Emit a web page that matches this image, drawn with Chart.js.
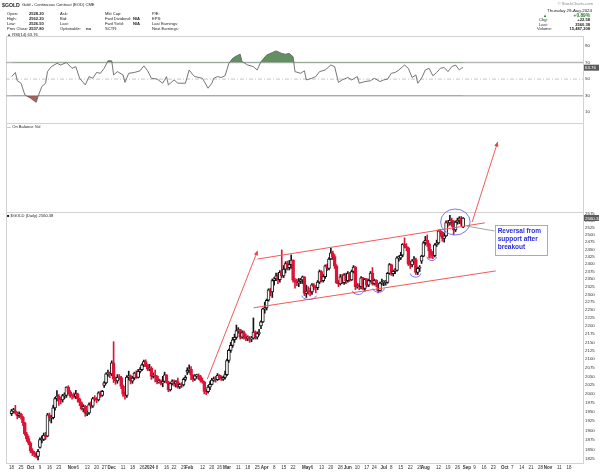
<!DOCTYPE html>
<html>
<head>
<meta charset="utf-8">
<script src="https://cdn.jsdelivr.net/npm/chart.js@4.4.1/dist/chart.umd.min.js"></script>
<style>
  body { margin: 0; background: #fff; }
  #wrap { position: relative; width: 600px; height: 472px; overflow: hidden; }
  #c { position: absolute; left: 0; top: 0; }
  .t { position: absolute; font: 4.1px "Liberation Sans", Arial, sans-serif; color: #222; white-space: nowrap; line-height: 1; }
  .b { font-weight: bold; }
  .r { text-align: right; }
</style>
</head>
<body>
<div id="wrap">
  <canvas id="c" width="600" height="472"></canvas>

  <!-- header -->
  <div class="t b" style="left:2px;top:2.5px;font-size:5.2px">$GOLD</div>
  <div class="t" style="left:22px;top:3px">Gold - Continuous Contract (EOD) CME</div>

  <div class="t" style="left:7px;top:12px">Open:</div><div class="t b" style="left:29px;top:12px">2528.20</div>
  <div class="t" style="left:7px;top:17px">High:</div><div class="t b" style="left:29px;top:17px">2562.20</div>
  <div class="t" style="left:7px;top:22px">Low:</div><div class="t b" style="left:29px;top:22px">2526.50</div>
  <div class="t" style="left:7px;top:27px">Prev Close:</div><div class="t b" style="left:29px;top:27px">2537.80</div>

  <div class="t" style="left:60px;top:12px">Ask:</div>
  <div class="t" style="left:60px;top:17px">Bid:</div>
  <div class="t" style="left:60px;top:22px">Last:</div>
  <div class="t" style="left:60px;top:27px">Optionable:</div><div class="t b" style="left:86px;top:27px">no</div>

  <div class="t" style="left:105px;top:12px">Mkt Cap:</div>
  <div class="t" style="left:105px;top:17px">Fwd Dividend:</div><div class="t b" style="left:133px;top:17px">N/A</div>
  <div class="t" style="left:105px;top:22px">Fwd Yield:</div><div class="t b" style="left:133px;top:22px">N/A</div>
  <div class="t" style="left:105px;top:27px">SCTR:</div>

  <div class="t" style="left:152px;top:12px">P/E:</div>
  <div class="t" style="left:152px;top:17px">EPS:</div>
  <div class="t" style="left:152px;top:22px">Last Earnings:</div>
  <div class="t" style="left:152px;top:27px">Next Earnings:</div>

  <div class="t r" style="right:7px;top:1.5px;color:#888">© StockCharts.com</div>
  <div class="t r" style="right:8px;top:9px;font-size:4.4px">Thursday 29-Aug-2024</div>
  <div class="t" style="left:543px;top:13.5px;color:#2a7a2a">▲</div>
  <div class="t b r" style="right:10px;top:13.5px;color:#2a7a2a;font-size:4.8px">+0.89%</div>
  <div class="t" style="left:539px;top:18px">Chg:</div><div class="t b r" style="right:10px;top:18px">+22.58</div>
  <div class="t" style="left:539px;top:22.5px">Last:</div><div class="t b r" style="right:10px;top:22.5px">2560.38</div>
  <div class="t" style="left:537px;top:27px">Volume:</div><div class="t b r" style="right:10px;top:27px">15,487,208</div>

  <!-- panel labels -->
  <div class="t" style="left:7px;top:32.5px"><span style="color:#3a7a3a">▲</span> RSI(14) 63.76</div>
  <div class="t" style="left:7px;top:125px"><span style="color:#333">—</span> On Balance Vol</div>
  <div class="t" style="left:7px;top:214px"><span style="color:#111">■</span> $GOLD (Daily) 2560.38</div>
</div>

<script>
// trading days from 18 Sep 2023 (index 0) to 29 Aug 2024 (index 239)
const opens = [
  1945,1953,1953,1945,1940,1944,1936,1920,1891,1878,
  1866,1847,1841,1837,1832,1855,1876,1876,1887,1885,
  1942,1934,1934,1961,1987,1994,1985,1983,1995,1996,
  2019,2006,1995,1994,1993,2000,1986,1976,1958,1965,
  1946,1947,1970,1966,1987,1985,1983,2003,1996,2024,
  2031,2057,2061,2057,2089,2042,2037,2047,2046,2021,
  1999,1996,2048,2051,2036,2045,2059,2047,2064,2069,
  2083,2093,2083,2071,2073,2050,2053,2050,2034,2036,
  2030,2035,2054,2034,2011,2029,2036,2028,2035,2020,
  2027,2025,2041,2062,2067,2071,2053,2042,2051,2051,
  2049,2038,2034,2007,2006,2019,2027,2039,2042,2040,
  2053,2045,2042,2047,2055,2096,2126,2141,2158,2165,
  2186,2189,2166,2180,2168,2162,2164,2160,2163,2181,
  2166,2177,2200,2213,2254,2257,2281,2315,2308,2345,
  2351,2361,2348,2372,2360,2383,2402,2388,2398,2413,
  2346,2342,2338,2342,2347,2357,2303,2311,2309,2308,
  2331,2324,2322,2340,2375,2345,2358,2394,2385,2417,
  2438,2425,2393,2337,2334,2357,2338,2364,2345,2369,
  2347,2375,2390,2325,2327,2325,2354,2319,2349,2330,
  2345,2370,2335,2346,2331,2312,2337,2339,2339,2339,
  2369,2398,2368,2376,2379,2421,2421,2430,2467,2460,
  2455,2400,2397,2411,2415,2372,2386,2410,2427,2473,
  2481,2469,2444,2432,2428,2466,2472,2515,2509,2488,
  2497,2544,2543,2552,2548,2518,2546,2552,2560,2528
];
const highs = [
  1957,1960,1968,1950,1950,1947,1938,1922,1895,1885,
  1870,1852,1845,1842,1850,1880,1885,1893,1895,1946,
  1947,1940,1968,1990,2009,1998,1990,1999,2003,2020,
  2023,2009,2000,2003,2010,2002,1988,1978,1970,1968,
  1952,1975,1978,1990,1995,1990,2006,2008,2010,2035,
  2060,2068,2062,2095,2152,2048,2055,2055,2050,2025,
  2005,2052,2065,2054,2050,2062,2066,2070,2075,2086,
  2097,2098,2085,2085,2078,2060,2068,2052,2042,2040,
  2050,2062,2055,2036,2032,2040,2040,2038,2045,2030,
  2032,2045,2052,2075,2083,2078,2055,2055,2056,2057,
  2053,2045,2036,2012,2024,2035,2044,2048,2050,2058,
  2055,2052,2050,2065,2100,2130,2150,2165,2175,2203,
  2195,2190,2185,2185,2175,2170,2168,2168,2225,2185,
  2182,2190,2216,2256,2275,2285,2318,2320,2350,2355,
  2370,2370,2378,2448,2395,2408,2410,2412,2431,2414,
  2352,2350,2352,2352,2360,2358,2330,2325,2320,2335,
  2335,2328,2345,2380,2378,2365,2397,2400,2422,2454,
  2444,2432,2398,2345,2365,2365,2368,2370,2375,2372,
  2380,2395,2392,2335,2335,2358,2356,2352,2352,2350,
  2375,2388,2350,2348,2335,2340,2350,2345,2345,2372,
  2402,2400,2380,2385,2425,2428,2440,2470,2490,2470,
  2458,2410,2415,2425,2420,2390,2395,2430,2477,2495,
  2500,2472,2450,2442,2470,2482,2518,2520,2512,2505,
  2550,2552,2570,2560,2551,2550,2560,2565,2566,2562
];
const lows = [
  1940,1947,1944,1931,1935,1930,1913,1887,1871,1862,
  1841,1834,1831,1828,1823,1853,1867,1873,1876,1883,
  1925,1920,1931,1955,1980,1968,1972,1977,1986,1990,
  2000,1990,1985,1988,1987,1977,1967,1955,1950,1938,
  1940,1943,1960,1962,1980,1975,1980,1990,1993,2018,
  2028,2050,2046,2052,2032,2027,2030,2040,2015,1993,
  1985,1990,2040,2028,2030,2040,2044,2045,2060,2066,
  2078,2078,2066,2066,2041,2045,2034,2028,2030,2025,
  2020,2032,2030,2006,2008,2025,2022,2019,2016,2015,
  2018,2022,2036,2055,2060,2040,2035,2038,2044,2040,
  2033,2030,2000,1998,2002,2012,2025,2035,2033,2038,
  2040,2038,2038,2042,2052,2090,2120,2135,2150,2160,
  2178,2160,2162,2160,2155,2155,2150,2152,2160,2160,
  2160,2172,2192,2210,2240,2250,2278,2295,2290,2330,
  2345,2335,2340,2355,2355,2370,2380,2380,2385,2340,
  2320,2328,2325,2335,2335,2296,2290,2300,2295,2300,
  2315,2305,2315,2335,2340,2340,2352,2378,2380,2415,
  2415,2385,2335,2325,2330,2335,2332,2335,2340,2342,
  2345,2370,2315,2320,2315,2318,2315,2310,2325,2325,
  2340,2330,2330,2325,2305,2310,2330,2328,2330,2336,
  2365,2362,2360,2368,2376,2410,2415,2425,2455,2445,
  2395,2385,2390,2405,2365,2365,2375,2402,2425,2465,
  2460,2420,2420,2418,2424,2460,2468,2495,2478,2475,
  2495,2530,2535,2530,2500,2512,2538,2540,2530,2526
];
const closes = [
  1953,1953,1947,1940,1945,1936,1920,1891,1878,1866,
  1847,1841,1837,1832,1845,1876,1876,1887,1883,1942,
  1934,1934,1961,1987,1994,1985,1983,1995,1996,2019,
  2006,1995,1994,1993,2000,1986,1976,1958,1965,1946,
  1947,1970,1966,1987,1985,1983,2003,1996,2007,2031,
  2057,2061,2057,2089,2042,2037,2047,2046,2021,1999,
  1996,2048,2051,2036,2045,2059,2047,2064,2069,2083,
  2093,2083,2071,2073,2050,2053,2050,2034,2036,2030,
  2035,2054,2034,2011,2029,2036,2028,2035,2020,2027,
  2025,2041,2047,2067,2071,2053,2042,2051,2051,2049,
  2038,2034,2007,2006,2019,2027,2039,2042,2040,2053,
  2045,2042,2047,2055,2096,2126,2141,2158,2165,2186,
  2189,2166,2180,2168,2162,2164,2160,2163,2181,2166,
  2177,2180,2213,2254,2257,2281,2315,2308,2345,2351,
  2361,2348,2372,2360,2383,2402,2388,2398,2413,2346,
  2342,2338,2342,2347,2357,2303,2311,2309,2308,2331,
  2324,2322,2340,2375,2345,2358,2394,2385,2417,2438,
  2425,2393,2337,2334,2357,2338,2364,2345,2369,2347,
  2375,2390,2325,2327,2325,2354,2319,2349,2330,2345,
  2370,2335,2346,2331,2312,2337,2339,2339,2339,2369,
  2398,2368,2376,2379,2421,2421,2430,2467,2460,2455,
  2400,2397,2411,2415,2372,2386,2387,2427,2473,2481,
  2469,2444,2432,2428,2466,2472,2515,2509,2488,2497,
  2544,2543,2552,2548,2518,2546,2552,2560,2538,2560
];

// RSI(14): trading-day index and value
const rsiDay = [
  0,2,3,5,7,10,13,14,16,18,19,21,24,26,29,32,34,36,39,41,
  43,45,47,49,51,53,54,56,59,60,62,65,68,70,72,74,77,80,82,83,
  86,88,92,94,96,97,101,104,106,107,109,111,113,115,117,119,121,122,125,128,
  130,132,135,138,140,143,145,147,149,150,153,155,156,159,161,163,166,169,171,173,
  175,178,180,183,184,187,190,192,195,197,199,201,203,205,208,210,212,214,215,217,
  219,221,223,225,227,229,231,233,235,237,238,239
];
const rsiValue = [
  53,58,48,45,31,27,22,29,41,45,59,65,69,67,70,63,65,51,43,53,
  51,58,57,63,72,72,55,59,55,46,57,58,60,66,60,51,50,45,53,43,
  49,45,45,61,55,53,51,39,45,51,53,52,54,69,75,78,80,71,67,65,
  61,71,79,82,84,81,80,81,77,59,57,60,49,51,53,59,61,67,65,46,
  49,52,49,53,45,47,48,51,47,49,50,57,58,61,67,63,52,55,45,51,
  61,63,54,58,63,64,59,65,67,61,63,64
];

const priceTicks = [];
for (let v = 1825; v <= 2575; v += 25) priceTicks.push(v);
const rsiTicks = [10, 30, 50, 70, 90];
const lastPrice = 2560.38;
const lastRsi = 63.76;

const holidays = ['2023-11-23','2023-12-25','2024-01-01','2024-01-15','2024-02-19','2024-03-29',
  '2024-05-27','2024-06-19','2024-07-04','2024-09-02','2024-11-28'];
const monthNames = ['Jan','Feb','Mar','Apr','May','Jun','Jul','Aug','Sep','Oct','Nov','Dec'];

const days = [];
for (let d = new Date(Date.UTC(2023, 8, 18)); days.length < 320; d.setUTCDate(d.getUTCDate() + 1)) {
  const wd = d.getUTCDay();
  if (wd === 0 || wd === 6) continue;
  if (holidays.includes(d.toISOString().slice(0, 10))) continue;
  days.push(new Date(d));
}

function dateTicks() {
  const months = [], weeks = [];
  for (let i = 0; i < 299; i++) {
    const d = days[i], prev = days[i - 1];
    if (prev && d.getUTCMonth() !== prev.getUTCMonth()) {
      months.push({ value: i, txt: d.getUTCMonth() === 0 ? String(d.getUTCFullYear()) : monthNames[d.getUTCMonth()], major: true });
    } else if (!prev || d.getUTCDay() < prev.getUTCDay() || (d - prev) > 3 * 864e5) {
      weeks.push({ value: i, txt: String(d.getUTCDate()) });
    }
  }
  const keep = weeks.filter(w => months.every(m => w.value - m.value > 2 || m.value - w.value > 2));
  return months.concat(keep).sort((a, b) => a.value - b.value);
}

const RED = '#dc1438', BLACK = '#151515';
const candleColor = closes.map((c, i) => c >= (i ? closes[i - 1] : opens[i]) ? BLACK : RED);
const bodyFill = closes.map((c, i) => c < opens[i] ? candleColor[i] : '#ffffff');

// chart notes (in trading-day / price units)
const channelLines = [[130.2, 2417, 250.5, 2543], [128.1, 2257, 256.3, 2377]];
const arrowLines = [[103.6, 2042, 130.2, 2445], [243.8, 2546, 257.3, 2849]];
const lowArcs = [[157.5, 2298, 3.9], [183.4, 2314, 3.1], [194.3, 2321, 3.1], [213.8, 2371, 2.9], [222.4, 2427, 2.6]];
const ring = [227.1, 242.7, 2593, 2500];
const pointer = [241.1, 2531, 255.7, 2514];
const noteBox = [255.7, 283.3, 2537, 2434];
const noteText = ['Reversal from', 'support after', 'breakout'];

const FONT = '"Liberation Sans", Arial, sans-serif';

const overlay = {
  id: 'overlay',
  beforeDatasetsDraw(chart) {
    const { ctx, chartArea: a, scales } = chart;
    ctx.save();
    ctx.strokeStyle = '#d2d2d2';
    ctx.lineWidth = 1;
    ['rsi', 'obv', 'price'].forEach(id => {
      const s = scales[id];
      ctx.strokeRect(a.left + 0.5, Math.round(s.top) + 0.5, a.right - a.left, s.bottom - s.top);
    });
    const r = scales.rsi;
    ctx.strokeStyle = '#b8b8b8';
    ctx.lineWidth = 1.5;
    [70, 30].forEach(v => {
      const y = r.getPixelForValue(v);
      ctx.beginPath(); ctx.moveTo(a.left, y); ctx.lineTo(a.right, y); ctx.stroke();
    });
    ctx.lineWidth = 0.8;
    ctx.setLineDash([4, 2, 1, 2]);
    const y50 = r.getPixelForValue(50);
    ctx.beginPath(); ctx.moveTo(a.left, y50); ctx.lineTo(a.right, y50); ctx.stroke();
    ctx.restore();
  },
  afterDatasetsDraw(chart) {
    const { ctx, scales } = chart;
    const X = d => scales.x.getPixelForValue(d);
    const Y = p => scales.price.getPixelForValue(p);
    ctx.save();
    ctx.strokeStyle = '#f05a5a';
    ctx.fillStyle = '#f03c3c';
    ctx.lineWidth = 1;
    channelLines.forEach(l => {
      ctx.beginPath(); ctx.moveTo(X(l[0]), Y(l[1])); ctx.lineTo(X(l[2]), Y(l[3])); ctx.stroke();
    });
    arrowLines.forEach(l => {
      const x0 = X(l[0]), y0 = Y(l[1]), x1 = X(l[2]), y1 = Y(l[3]);
      ctx.beginPath(); ctx.moveTo(x0, y0); ctx.lineTo(x1, y1); ctx.stroke();
      const ang = Math.atan2(y1 - y0, x1 - x0), sz = 5;
      ctx.beginPath();
      ctx.moveTo(x1, y1);
      ctx.lineTo(x1 - sz * Math.cos(ang - 0.45), y1 - sz * Math.sin(ang - 0.45));
      ctx.lineTo(x1 - sz * Math.cos(ang + 0.45), y1 - sz * Math.sin(ang + 0.45));
      ctx.closePath(); ctx.fill();
    });
    ctx.strokeStyle = '#6b6bf0';
    ctx.lineWidth = 0.9;
    lowArcs.forEach(a => {
      const cx = X(a[0]), cy = Y(a[1]), rx = X(a[0] + a[2]) - cx;
      ctx.beginPath(); ctx.ellipse(cx, cy, rx, 4.5, 0, 0.15, Math.PI - 0.15); ctx.stroke();
    });
    const rx0 = X(ring[0]), rx1 = X(ring[1]), ry0 = Y(ring[2]), ry1 = Y(ring[3]);
    ctx.beginPath();
    ctx.ellipse((rx0 + rx1) / 2, (ry0 + ry1) / 2, (rx1 - rx0) / 2, (ry1 - ry0) / 2, 0, 0, Math.PI * 2);
    ctx.stroke();
    ctx.strokeStyle = '#9a9a9a';
    ctx.beginPath(); ctx.moveTo(X(pointer[0]), Y(pointer[1])); ctx.lineTo(X(pointer[2]), Y(pointer[3])); ctx.stroke();
    const bx = X(noteBox[0]), bw = X(noteBox[1]) - bx, by = Y(noteBox[2]), bh = Y(noteBox[3]) - by;
    ctx.fillStyle = '#ffffff';
    ctx.fillRect(bx, by, bw, bh);
    ctx.strokeStyle = '#9aa0c0';
    ctx.strokeRect(Math.round(bx) + 0.5, Math.round(by) + 0.5, Math.round(bw), Math.round(bh));
    ctx.fillStyle = '#2b2bd6';
    ctx.font = 'bold 6.5px ' + FONT;
    ctx.textBaseline = 'top';
    noteText.forEach((t, i) => ctx.fillText(t, bx + 3, by + 3 + i * 8));
    ctx.restore();
  },
  afterDraw(chart) {
    const { ctx, chartArea: a, scales } = chart;
    ctx.save();
    ctx.font = '4.4px ' + FONT;
    ctx.textBaseline = 'middle';
    [[scales.price.getPixelForValue(lastPrice), lastPrice.toFixed(2)],
     [scales.rsi.getPixelForValue(lastRsi), lastRsi.toFixed(2)]].forEach(([y, t]) => {
      ctx.fillStyle = '#5a5a5a';
      ctx.fillRect(a.right + 1, y - 3, 15, 6);
      ctx.fillStyle = '#ffffff';
      ctx.fillText(t, a.right + 2, y + 0.5);
    });
    ctx.restore();
  }
};

const sideAxis = (weight, extra) => Object.assign({
  position: 'right', stack: 'panes', stackWeight: weight, offset: false,
  grid: { display: false, drawTicks: false },
  border: { display: true, color: '#c8c8c8' },
  afterFit: s => { s.width = 17; },
  ticks: { padding: 2, color: '#333', font: { size: 4.4, family: FONT }, autoSkip: false }
}, extra);

new Chart(document.getElementById('c'), {
  data: {
    datasets: [
      {
        type: 'bar', order: 0, yAxisID: 'price', grouped: false,
        data: closes.map((c, i) => ({ x: i, y: [opens[i], c] })),
        backgroundColor: bodyFill, borderColor: candleColor, borderWidth: 1,
        borderSkipped: false, barThickness: 3, minBarLength: 1
      },
      {
        type: 'bar', order: 1, yAxisID: 'price', grouped: false,
        data: closes.map((c, i) => ({ x: i, y: [lows[i], highs[i]] })),
        backgroundColor: candleColor, borderWidth: 0, barThickness: 1
      },
      {
        type: 'line', order: 2, yAxisID: 'rsi',
        data: rsiDay.map((d, i) => ({ x: d, y: rsiValue[i] })),
        borderColor: '#666', borderWidth: 0.9, pointRadius: 0, tension: 0,
        fill: { target: { value: 70 }, above: 'rgba(70,125,70,0.85)', below: 'rgba(0,0,0,0)' }
      },
      {
        type: 'line', order: 3, yAxisID: 'rsi',
        data: rsiDay.map((d, i) => ({ x: d, y: rsiValue[i] })),
        borderWidth: 0, pointRadius: 0, tension: 0,
        fill: { target: { value: 30 }, above: 'rgba(0,0,0,0)', below: 'rgba(150,70,70,0.85)' }
      }
    ]
  },
  options: {
    responsive: false,
    animation: false,
    layout: { padding: { left: 6, top: 36, right: 0, bottom: 0 } },
    plugins: { legend: { display: false }, tooltip: { enabled: false } },
    scales: {
      x: {
        type: 'linear', min: -0.5, max: 300,
        grid: { display: false, drawTicks: false },
        border: { display: true, color: '#c8c8c8' },
        afterBuildTicks: s => { s.ticks = dateTicks(); },
        afterFit: s => { s.height = 9; },
        ticks: {
          autoSkip: false, maxRotation: 0, padding: 2, color: '#333',
          font: c => ({ size: 4.5, family: FONT, weight: c.tick && c.tick.major ? 'bold' : 'normal' }),
          callback: (v, i, t) => t[i].txt
        }
      },
      rsi: sideAxis(87, {
        type: 'linear', min: -3, max: 102,
        afterBuildTicks: s => { s.ticks = rsiTicks.map(v => ({ value: v })); }
      }),
      obv: sideAxis(89, {
        type: 'linear', min: 0, max: 1,
        ticks: { display: false }
      }),
      price: sideAxis(251, {
        type: 'logarithmic', min: 1815, max: 2582,
        afterBuildTicks: s => { s.ticks = priceTicks.map(v => ({ value: v })); },
        ticks: { padding: 2, color: '#333', font: { size: 4.4, family: FONT }, autoSkip: false, callback: v => String(v) }
      })
    }
  },
  plugins: [overlay]
});
</script>
</body>
</html>
